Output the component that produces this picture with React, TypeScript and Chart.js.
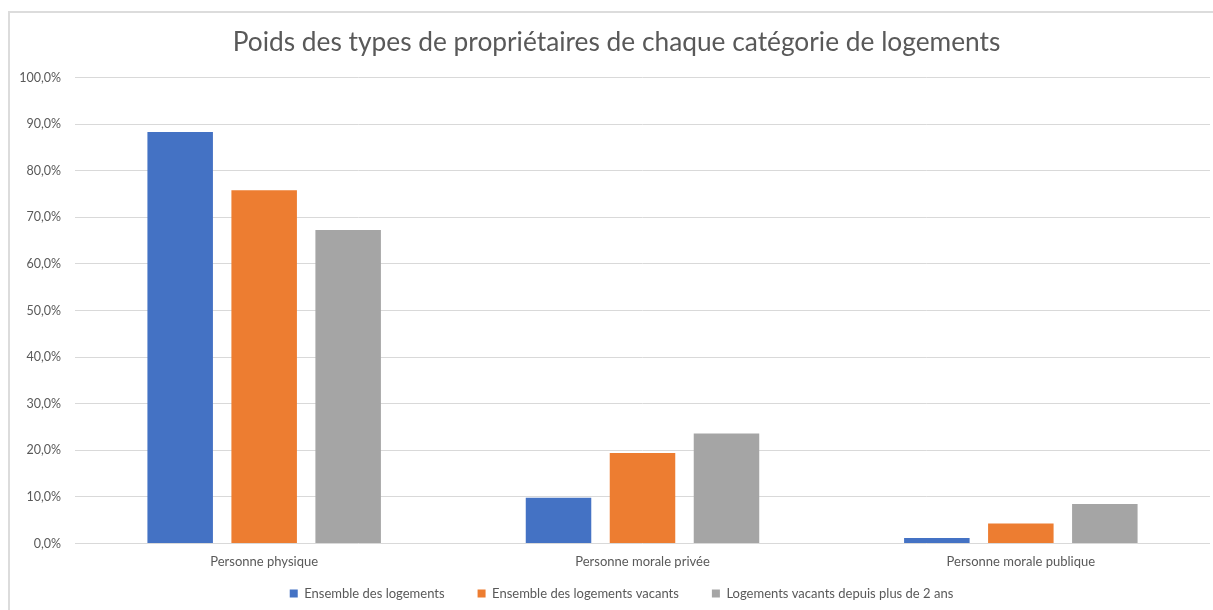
import React, { useEffect, useRef } from "react";
import { Chart, registerables } from "chart.js";

Chart.register(...registerables);

const categories = ["Personne physique", "Personne morale privée", "Personne morale publique"];
const ensembleLogements = [88.3, 9.8, 1.2];
const ensembleVacants = [75.8, 19.4, 4.3];
const vacantsPlus2Ans = [67.3, 23.6, 8.5];
const seriesNames = [
  "Ensemble des logements",
  "Ensemble des logements vacants",
  "Logements vacants depuis plus de 2 ans",
];
const seriesColors = ["#4472C4", "#ED7D31", "#A5A5A5"];
const titleText = "Poids des types de propriétaires de chaque catégorie de logements";

const FONT = "Lato, 'Noto Sans', sans-serif";
const TEXT = "#595959";

const layoutTweaks = {
  id: "layoutTweaks",
  afterLayout(chart: any) {
    const x = chart.scales.x;
    if (x) x.bottom = x.top + 40;
    const t = chart.titleBlock;
    if (t) {
      t.left += 6.5;
      t.right += 6.5;
    }
    const l = chart.legend;
    if (l) {
      l.left += 11.5;
      l.right += 11.5;
    }
  },
};

export default function App() {
  const ref = useRef<HTMLCanvasElement | null>(null);

  useEffect(() => {
    if (!ref.current) return;
    const values = [ensembleLogements, ensembleVacants, vacantsPlus2Ans];
    const chart = new Chart(ref.current, {
      type: "bar",
      data: {
        labels: categories,
        datasets: seriesNames.map((name, i) => ({
          label: name,
          data: values[i],
          backgroundColor: seriesColors[i],
          borderWidth: 0,
          categoryPercentage: 0.666,
          barPercentage: 0.78,
        })),
      },
      options: {
        animation: false,
        responsive: false,
        maintainAspectRatio: false,
        layout: { padding: { left: 10, right: 3, top: 0, bottom: 0 } },
        plugins: {
          tooltip: { enabled: false },
          title: {
            display: true,
            text: titleText,
            color: TEXT,
            font: { family: FONT, size: 26.3, weight: "normal" },
            padding: { top: 27, bottom: 19 },
          },
          legend: {
            display: true,
            position: "bottom",
            labels: {
              color: TEXT,
              font: { family: FONT, size: 13 },
              boxWidth: 8,
              boxHeight: 8,
              padding: 33,
            },
          },
        },
        scales: {
          x: {
            grid: { display: false, drawTicks: false },
            border: { display: false },
            ticks: { color: TEXT, font: { family: FONT, size: 13 }, padding: 11 },
            afterFit: (s: any) => {
              s.height = 10.5;
            },
          },
          y: {
            min: 0,
            max: 100,
            grid: { color: "#D9D9D9", lineWidth: 1, drawTicks: false },
            border: { display: false },
            ticks: {
              stepSize: 10,
              color: TEXT,
              font: { family: FONT, size: 12.5 },
              padding: 14,
              callback: (v: any) => Number(v).toFixed(1).replace(".", ",") + "%",
            },
            afterFit: (s: any) => {
              s.width = 65;
            },
          },
        },
      },
      plugins: [layoutTweaks],
    });
    return () => chart.destroy();
  }, []);

  return (
    <div style={{ position: "fixed", left: 0, top: 0, width: 1213, height: 610, background: "#fff", overflow: "hidden" }}>
      <div
        style={{
          position: "absolute",
          left: 8,
          top: 11,
          width: 1220,
          height: 620,
          borderTop: "2px solid #DCDCDC",
          borderLeft: "2px solid #DCDCDC",
        }}
      />
      <canvas ref={ref} width={1213} height={610} style={{ position: "absolute", left: 0, top: 0 }} />
    </div>
  );
}
